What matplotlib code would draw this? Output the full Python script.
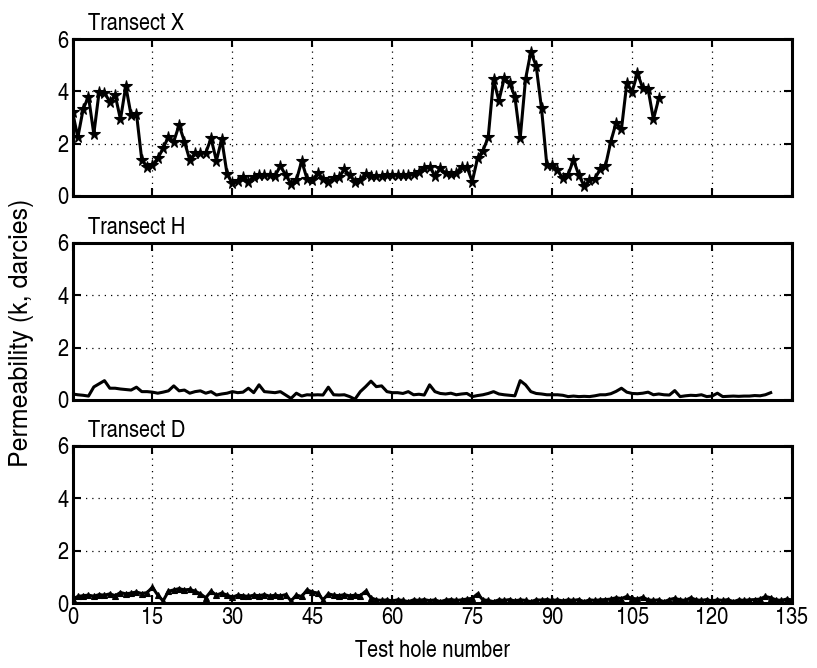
import matplotlib
matplotlib.use("Agg")
import matplotlib.pyplot as plt

plt.rcParams['font.family'] = ['TeX Gyre Heros Cn', 'Liberation Sans', 'DejaVu Sans']

# ---------------- data ----------------
titles = ["Transect X", "Transect H", "Transect D"]
x_ticks = [0, 15, 30, 45, 60, 75, 90, 105, 120, 135]
y_ticks = [0, 2, 4, 6]

perm_x = [3.22, 2.24, 3.32, 3.80, 2.37, 3.99, 3.95, 3.60, 3.86, 2.93,
          4.20, 3.08, 3.15, 1.38, 1.12, 1.18, 1.44, 1.82, 2.27, 2.08,
          2.71, 2.08, 1.38, 1.63, 1.65, 1.65, 2.20, 1.35, 2.17, 0.84,
          0.48, 0.58, 0.74, 0.55, 0.74, 0.80, 0.80, 0.80, 0.77, 1.15,
          0.80, 0.46, 0.60, 1.34, 0.66, 0.60, 0.87, 0.66, 0.55, 0.67,
          0.72, 1.02, 0.80, 0.55, 0.63, 0.84, 0.77, 0.77, 0.77, 0.80,
          0.80, 0.80, 0.80, 0.80, 0.84, 0.93, 1.06, 1.12, 0.77, 1.06,
          0.87, 0.84, 0.87, 1.12, 1.12, 0.55, 1.44, 1.73, 2.24, 4.46,
          3.64, 4.50, 4.33, 3.80, 2.20, 4.46, 5.51, 4.97, 3.35, 1.18,
          1.20, 0.99, 0.67, 0.82, 1.38, 0.80, 0.38, 0.60, 0.66, 1.02,
          1.15, 2.08, 2.80, 2.55, 4.30, 3.99, 4.69, 4.12, 4.08, 2.93,
          3.73]

perm_h = [0.23, 0.20, 0.18, 0.15, 0.50, 0.62, 0.74, 0.45, 0.45, 0.42,
          0.40, 0.38, 0.49, 0.32, 0.32, 0.30, 0.26, 0.30, 0.35, 0.54,
          0.35, 0.38, 0.26, 0.32, 0.35, 0.26, 0.32, 0.19, 0.23, 0.26,
          0.32, 0.28, 0.30, 0.45, 0.28, 0.58, 0.32, 0.30, 0.28, 0.32,
          0.19, 0.06, 0.26, 0.15, 0.20, 0.19, 0.20, 0.19, 0.49, 0.20,
          0.19, 0.20, 0.13, 0.03, 0.32, 0.51, 0.72, 0.51, 0.54, 0.32,
          0.28, 0.28, 0.25, 0.32, 0.20, 0.22, 0.19, 0.58, 0.32, 0.25,
          0.23, 0.26, 0.20, 0.23, 0.25, 0.13, 0.17, 0.20, 0.25, 0.32,
          0.23, 0.20, 0.18, 0.16, 0.74, 0.58, 0.32, 0.25, 0.23, 0.20,
          0.20, 0.20, 0.18, 0.13, 0.15, 0.13, 0.14, 0.13, 0.16, 0.20,
          0.20, 0.24, 0.33, 0.45, 0.30, 0.25, 0.24, 0.26, 0.30, 0.20,
          0.23, 0.20, 0.19, 0.36, 0.13, 0.16, 0.18, 0.17, 0.20, 0.13,
          0.15, 0.26, 0.13, 0.14, 0.15, 0.14, 0.15, 0.15, 0.17, 0.16,
          0.20, 0.28]

perm_d = [0.15, 0.25, 0.28, 0.30, 0.26, 0.32, 0.30, 0.35, 0.28, 0.40,
          0.35, 0.38, 0.42, 0.36, 0.40, 0.60, 0.30, 0.08, 0.45, 0.50,
          0.55, 0.50, 0.52, 0.45, 0.35, 0.20, 0.45, 0.30, 0.38, 0.30,
          0.22, 0.30, 0.28, 0.25, 0.30, 0.28, 0.32, 0.26, 0.30, 0.27,
          0.32, 0.08, 0.30, 0.25, 0.50, 0.42, 0.38, 0.12, 0.35, 0.30,
          0.28, 0.32, 0.27, 0.30, 0.28, 0.45, 0.20, 0.12, 0.10, 0.12,
          0.08, 0.12, 0.10, 0.05, 0.12, 0.10, 0.13, 0.09, 0.12, 0.05,
          0.11, 0.13, 0.10, 0.12, 0.15, 0.18, 0.35, 0.12, 0.10, 0.05,
          0.12, 0.10, 0.13, 0.08, 0.12, 0.10, 0.05, 0.12, 0.11, 0.13,
          0.10, 0.12, 0.08, 0.12, 0.10, 0.13, 0.05, 0.12, 0.10, 0.12,
          0.13, 0.15, 0.20, 0.17, 0.25, 0.18, 0.15, 0.22, 0.12, 0.10,
          0.12, 0.05, 0.13, 0.18, 0.12, 0.10, 0.20, 0.12, 0.10, 0.13,
          0.08, 0.12, 0.10, 0.13, 0.05, 0.12, 0.10, 0.12, 0.13, 0.15,
          0.25, 0.20, 0.12, 0.10, 0.15, 0.12]

holes_x = list(range(len(perm_x)))
holes_h = list(range(len(perm_h)))
holes_d = list(range(len(perm_d)))

series = [(holes_x, perm_x, '*', 8.5), (holes_h, perm_h, None, 0), (holes_d, perm_d, '^', 5)]

# ---------------- figure ----------------
fig = plt.figure(figsize=(8.17, 6.68), dpi=100)
W, H = 817.0, 668.0
left_px, right_px = 72.5, 792.0
panels_px = [(39, 196), (243, 400), (446, 603)]
FS = 17.5

axes = []
for (top, bot) in panels_px:
    ax = fig.add_axes([left_px / W, 1 - bot / H, (right_px - left_px) / W, (bot - top) / H])
    axes.append(ax)

for i, (ax, (xs, ys, mk, ms), title) in enumerate(zip(axes, series, titles)):
    if mk:
        ax.plot(xs, ys, color='black', linewidth=2.2, marker=mk, markersize=ms,
                markerfacecolor='black', markeredgecolor='black', markeredgewidth=0.8)
    else:
        ax.plot(xs, ys, color='black', linewidth=2.2)
    ax.set_xlim(0, 135)
    ax.set_ylim(0, 6)
    ax.set_xticks(x_ticks)
    ax.set_yticks(y_ticks)
    ax.grid(True, color='black', linestyle=(0, (1, 4)), linewidth=0.9)
    ax.tick_params(direction='in', top=True, right=True, length=6, width=1.5,
                   labelsize=FS)
    ax.tick_params(axis='x', pad=3)
    ax.tick_params(axis='y', pad=3)
    for sp in ax.spines.values():
        sp.set_linewidth(2.2)
    if i < 2:
        ax.set_xticklabels([])
    ax.text(0.022, 1.055, title, transform=ax.transAxes, fontsize=FS,
            ha='left', va='baseline')

axes[2].set_xlabel("Test hole number", fontsize=FS, labelpad=8)
fig.text(22 / W, 1 - 333 / H, "Permeability (k, darcies)", rotation=90, fontsize=18,
         family=['TeX Gyre Heros', 'Liberation Sans'], ha='center', va='center')

fig.savefig("out.png", dpi=100)
